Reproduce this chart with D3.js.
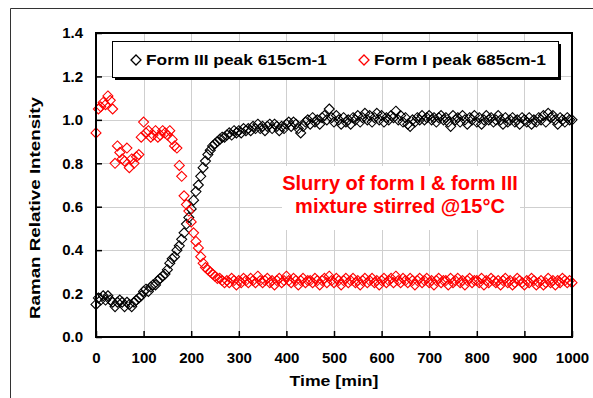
<!DOCTYPE html>
<html>
<head>
<meta charset="utf-8">
<script src="https://cdn.jsdelivr.net/npm/d3@7"></script>
<style>
	body { margin: 0; background: #fff; }
	svg { display: block; font-family: Arial, "Liberation Sans", sans-serif; }
</style>
</head>
<body>
<div id="chart"></div>
<script>
// time axis [min]
var time_min = [
	0, 5, 10, 15, 20, 25, 30, 35, 40, 45,
	50, 55, 60, 65, 70, 75, 80, 85, 90, 95,
	100, 105, 110, 115, 120, 125, 130, 135, 140, 145,
	150, 155, 160, 165, 170, 175, 180, 185, 190, 195,
	200, 205, 210, 215, 220, 225, 230, 235, 240, 245,
	250, 255, 260, 265, 270, 275, 280, 285, 290, 295,
	300, 305, 310, 315, 320, 325, 330, 335, 340, 345,
	350, 355, 360, 365, 370, 375, 380, 385, 390, 395,
	400, 405, 410, 415, 420, 425, 430, 435, 440, 445,
	450, 455, 460, 465, 470, 475, 480, 485, 490, 495,
	500, 505, 510, 515, 520, 525, 530, 535, 540, 545,
	550, 555, 560, 565, 570, 575, 580, 585, 590, 595,
	600, 605, 610, 615, 620, 625, 630, 635, 640, 645,
	650, 655, 660, 665, 670, 675, 680, 685, 690, 695,
	700, 705, 710, 715, 720, 725, 730, 735, 740, 745,
	750, 755, 760, 765, 770, 775, 780, 785, 790, 795,
	800, 805, 810, 815, 820, 825, 830, 835, 840, 845,
	850, 855, 860, 865, 870, 875, 880, 885, 890, 895,
	900, 905, 910, 915, 920, 925, 930, 935, 940, 945,
	950, 955, 960, 965, 970, 975, 980, 985, 990, 995,
	1000
];

// Form III peak 615cm-1
var form3 = [
	0.15, 0.18, 0.17, 0.19, 0.17, 0.19, 0.17, 0.16, 0.14, 0.16,
	0.17, 0.16, 0.14, 0.16, 0.15, 0.14, 0.16, 0.17, 0.18, 0.19,
	0.21, 0.22, 0.21, 0.23, 0.24, 0.24, 0.26, 0.27, 0.28, 0.29,
	0.31, 0.34, 0.36, 0.37, 0.40, 0.42, 0.45, 0.48, 0.52, 0.55,
	0.59, 0.63, 0.67, 0.70, 0.74, 0.78, 0.81, 0.84, 0.86, 0.88,
	0.89, 0.90, 0.91, 0.92, 0.92, 0.93, 0.94, 0.93, 0.95, 0.94,
	0.95, 0.94, 0.96, 0.95, 0.96, 0.95, 0.97, 0.96, 0.98, 0.96,
	0.97, 0.95, 0.97, 0.98, 0.96, 0.98, 0.97, 0.95, 0.97, 0.96,
	0.98, 0.99, 0.97, 0.99, 0.98, 0.96, 0.94, 0.97, 0.99, 1.00,
	0.98, 1.01, 0.99, 1.00, 0.98, 1.01, 1.02, 1.00, 1.05, 1.01,
	0.99, 1.02, 1.00, 0.98, 1.01, 0.99, 1.00, 0.98, 1.01, 1.00,
	1.02, 0.99, 1.01, 1.03, 1.00, 1.02, 0.99, 1.01, 1.03, 1.00,
	1.02, 0.99, 1.01, 1.00, 1.02, 1.01, 1.04, 1.00, 1.02, 0.99,
	1.01, 0.98, 0.97, 1.00, 0.99, 1.01, 1.00, 1.02, 1.00, 1.01,
	1.02, 1.00, 1.01, 0.99, 1.01, 1.02, 1.00, 1.01, 0.99, 0.97,
	1.02, 1.00, 1.01, 0.99, 1.02, 1.00, 0.98, 1.01, 1.00, 1.02,
	0.99, 1.01, 0.98, 1.00, 1.02, 1.00, 1.01, 0.99, 1.00, 1.02,
	1.00, 0.98, 1.01, 0.99, 1.00, 1.01, 0.99, 1.00, 0.98, 1.01,
	1.00, 0.99, 1.01, 0.98, 1.00, 0.99, 1.01, 1.00, 1.02, 0.99,
	1.03, 1.01, 1.02, 1.00, 0.98, 1.01, 1.00, 0.99, 1.01, 1.00,
	1.00
];

// Form I peak 685cm-1
var form1 = [
	0.94, 1.05, 1.06, 1.08, 1.07, 1.11, 1.09, 1.05, 0.80, 0.88,
	0.85, 0.82, 0.81, 0.87, 0.78, 0.82, 0.80, 0.83, 0.84, 0.92,
	0.99, 0.94, 0.95, 0.92, 0.93, 0.95, 0.92, 0.93, 0.95, 0.94,
	0.93, 0.95, 0.91, 0.88, 0.87, 0.79, 0.74, 0.65, 0.61, 0.58,
	0.53, 0.48, 0.44, 0.41, 0.37, 0.34, 0.32, 0.31, 0.30, 0.29,
	0.28, 0.27, 0.27, 0.26, 0.25, 0.26, 0.25, 0.27, 0.26, 0.24,
	0.26, 0.25, 0.27, 0.26, 0.25, 0.27, 0.26, 0.25, 0.28, 0.26,
	0.25, 0.26, 0.27, 0.25, 0.26, 0.24, 0.26, 0.27, 0.25, 0.26,
	0.28, 0.26, 0.25, 0.27, 0.26, 0.24, 0.26, 0.27, 0.25, 0.26,
	0.26, 0.25, 0.27, 0.26, 0.24, 0.26, 0.27, 0.25, 0.28, 0.26,
	0.25, 0.27, 0.26, 0.24, 0.26, 0.27, 0.25, 0.26, 0.27, 0.25,
	0.26, 0.24, 0.26, 0.27, 0.25, 0.26, 0.27, 0.25, 0.26, 0.24,
	0.26, 0.27, 0.25, 0.26, 0.27, 0.25, 0.28, 0.26, 0.25, 0.27,
	0.26, 0.25, 0.27, 0.26, 0.24, 0.26, 0.27, 0.25, 0.26, 0.27,
	0.25, 0.26, 0.24, 0.26, 0.27, 0.25, 0.26, 0.26, 0.24, 0.27,
	0.25, 0.26, 0.27, 0.25, 0.26, 0.24, 0.26, 0.27, 0.25, 0.26,
	0.26, 0.25, 0.27, 0.24, 0.26, 0.25, 0.27, 0.26, 0.25, 0.26,
	0.24, 0.26, 0.27, 0.25, 0.26, 0.24, 0.25, 0.27, 0.26, 0.25,
	0.24, 0.26, 0.25, 0.27, 0.26, 0.24, 0.25, 0.26, 0.24, 0.25,
	0.27, 0.25, 0.26, 0.24, 0.26, 0.25, 0.27, 0.26, 0.25, 0.26,
	0.25
];

var x_ticks = [0, 100, 200, 300, 400, 500, 600, 700, 800, 900, 1000];
var y_ticks = [0.0, 0.2, 0.4, 0.6, 0.8, 1.0, 1.2, 1.4];
var series_names = ["Form III peak 615cm-1", "Form I peak 685cm-1"];
var series_colors = ["#000000", "#ff0000"];
var note_lines = ["Slurry of form I & form III", "mixture stirred @15\u00b0C"];

var W = 593, H = 398;
var plot = {left: 96, right: 572, top: 33, bottom: 337};

window.onload = function() {
	main();
};

function main() {
	var svg = d3.select("#chart")
		.append("svg")
		.attr("width", W)
		.attr("height", H);

	var x = d3.scaleLinear().domain([0, 1000]).range([plot.left, plot.right]);
	var y = d3.scaleLinear().domain([0, 1.4]).range([plot.bottom, plot.top]);

	// outer frame (runs off the right and bottom of the picture)
	svg.append("path")
		.attr("d", "M10.5," + H + "V8.5H" + W)
		.attr("fill", "none")
		.attr("stroke", "#333")
		.attr("stroke-width", 1);

	// grid
	svg.append("g")
		.selectAll("line")
		.data(x_ticks.slice(1, -1))
		.enter().append("line")
		.attr("x1", function(d) { return Math.round(x(d)) + 0.5; })
		.attr("x2", function(d) { return Math.round(x(d)) + 0.5; })
		.attr("y1", plot.top)
		.attr("y2", plot.bottom)
		.attr("stroke", "#cfcfcf");

	svg.append("g")
		.selectAll("line")
		.data(y_ticks.slice(1, -1))
		.enter().append("line")
		.attr("y1", function(d) { return Math.round(y(d)) + 0.5; })
		.attr("y2", function(d) { return Math.round(y(d)) + 0.5; })
		.attr("x1", plot.left)
		.attr("x2", plot.right)
		.attr("stroke", "#cfcfcf");

	// annotation box sits on the grid
	svg.append("rect")
		.attr("x", 282)
		.attr("y", 166)
		.attr("width", 238)
		.attr("height", 64)
		.attr("fill", "#fff");

	svg.append("g")
		.selectAll("text")
		.data(note_lines)
		.enter().append("text")
		.attr("x", 400)
		.attr("y", function(d, i) { return 190 + i * 23; })
		.attr("text-anchor", "middle")
		.attr("font-size", "20px")
		.attr("font-weight", "bold")
		.attr("fill", "#ff0000")
		.text(function(d) { return d; });

	// markers
	var diamond = "M0,-5L5,0L0,5L-5,0Z";
	[form3, form1].forEach(function(vals, k) {
		svg.append("g")
			.selectAll("path")
			.data(vals)
			.enter().append("path")
			.attr("d", diamond)
			.attr("transform", function(d, i) {
				return "translate(" + x(time_min[i]) + "," + y(d) + ")";
			})
			.attr("fill", "none")
			.attr("stroke", series_colors[k])
			.attr("stroke-width", 1.1);
	});

	// axes: frame + inside ticks
	svg.append("rect")
		.attr("x", plot.left)
		.attr("y", plot.top)
		.attr("width", plot.right - plot.left)
		.attr("height", plot.bottom - plot.top)
		.attr("fill", "none")
		.attr("stroke", "#000")
		.attr("stroke-width", 2);

	var xa = svg.append("g")
		.attr("transform", "translate(0," + plot.bottom + ")")
		.call(d3.axisBottom(x).tickValues(x_ticks).tickFormat(d3.format("d")).tickSizeInner(-6).tickSizeOuter(0).tickPadding(15));
	var ya = svg.append("g")
		.attr("transform", "translate(" + plot.left + ",0)")
		.call(d3.axisLeft(y).tickValues(y_ticks).tickFormat(d3.format(".1f")).tickSizeInner(-6).tickSizeOuter(0).tickPadding(13));

	[xa, ya].forEach(function(a) {
		a.select(".domain").remove();
		a.selectAll("line").attr("stroke", "#000").attr("stroke-width", 1.5);
		a.selectAll("text")
			.attr("font-family", "Arial, 'Liberation Sans', sans-serif")
			.attr("font-size", "15px")
			.attr("font-weight", "bold")
			.attr("fill", "#000");
	});

	// axis titles
	svg.append("text")
		.attr("x", (plot.left + plot.right) / 2)
		.attr("y", 386)
		.attr("text-anchor", "middle")
		.attr("font-size", "15px")
		.attr("font-weight", "bold")
		.attr("textLength", 89)
		.attr("lengthAdjust", "spacingAndGlyphs")
		.text("Time [min]");

	svg.append("text")
		.attr("transform", "translate(40,208) rotate(-90)")
		.attr("text-anchor", "middle")
		.attr("font-size", "15px")
		.attr("font-weight", "bold")
		.attr("textLength", 222)
		.attr("lengthAdjust", "spacingAndGlyphs")
		.text("Raman Relative Intensity");

	// legend with drop shadow
	var lg = svg.append("g");
	lg.append("rect")
		.attr("x", 115).attr("y", 44)
		.attr("width", 446).attr("height", 36)
		.attr("fill", "#000");
	lg.append("rect")
		.attr("x", 112.5).attr("y", 41.5)
		.attr("width", 446).attr("height", 36)
		.attr("fill", "#fff")
		.attr("stroke", "#000")
		.attr("stroke-width", 1);

	var items = [
		{mx: 136, tx: 146, len: 181},
		{mx: 364, tx: 374, len: 172}
	];
	items.forEach(function(it, k) {
		lg.append("path")
			.attr("d", diamond)
			.attr("transform", "translate(" + it.mx + ",60)")
			.attr("fill", "none")
			.attr("stroke", series_colors[k])
			.attr("stroke-width", 1.3);
		lg.append("text")
			.attr("x", it.tx)
			.attr("y", 65)
			.attr("font-size", "15px")
			.attr("font-weight", "bold")
			.attr("textLength", it.len)
			.attr("lengthAdjust", "spacingAndGlyphs")
			.text(series_names[k]);
	});
}
</script>
</body>
</html>
